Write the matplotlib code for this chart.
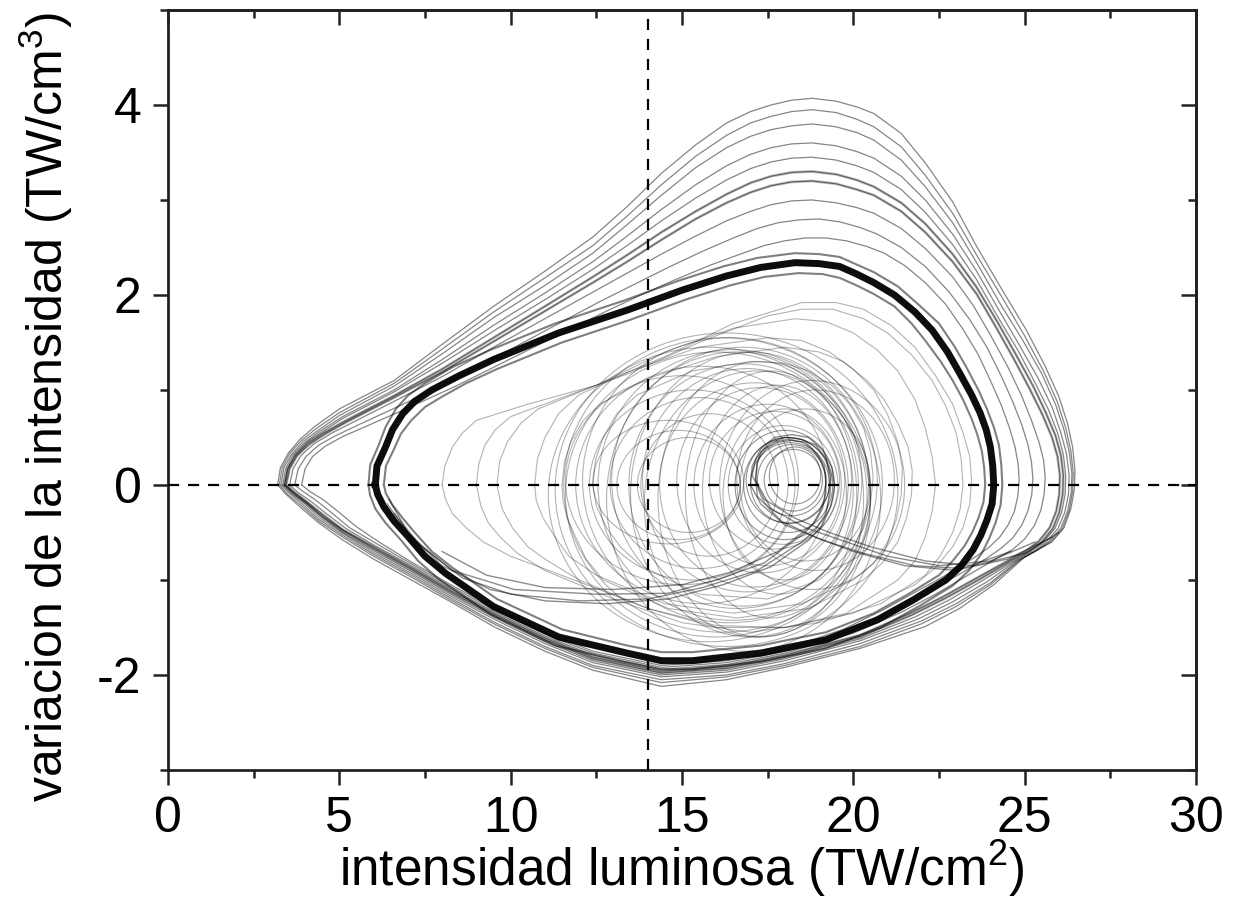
import matplotlib
matplotlib.use("Agg")
import matplotlib.pyplot as plt
from matplotlib.patches import Ellipse
from matplotlib.ticker import MultipleLocator

plt.rcParams['font.family'] = ['Liberation Sans', 'DejaVu Sans']
plt.rcParams['mathtext.fontset'] = 'custom'
plt.rcParams['mathtext.rm'] = 'Liberation Sans'
plt.rcParams['mathtext.it'] = 'Liberation Sans'
plt.rcParams['axes.unicode_minus'] = False

# ---------------- data ----------------
x_ticks = [0, 5, 10, 15, 20, 25, 30]
y_ticks = [-2, 0, 2, 4]
x_ref = 14.0     # vertical dashed line
y_ref = 0.0      # horizontal dashed line

# dominant (thick) cycle
main_cycle = [(6.05, 0.0), (6.1, 0.2), (6.35, 0.40), (6.55, 0.58), (6.85, 0.75), (7.2, 0.88),
              (7.7, 1.0), (8.5, 1.15), (9.5, 1.32), (11.4, 1.6), (13.4, 1.84), (15.0, 2.05),
              (16.3, 2.2), (17.3, 2.29), (18.3, 2.34), (19.0, 2.33), (19.6, 2.3), (20.1, 2.22),
              (20.6, 2.13), (21.2, 2.0), (21.8, 1.82), (22.3, 1.63), (22.75, 1.4), (23.1, 1.18),
              (23.45, 0.95), (23.7, 0.76), (23.88, 0.58), (24.0, 0.40), (24.07, 0.2), (24.1, 0.0),
              (24.05, -0.2), (23.9, -0.37), (23.72, -0.53), (23.5, -0.68), (23.15, -0.85),
              (22.7, -1.0), (21.75, -1.21), (20.7, -1.42), (19.2, -1.63), (17.3, -1.77),
              (15.3, -1.85), (14.4, -1.85), (13.4, -1.77), (11.4, -1.6), (9.5, -1.28),
              (8.1, -0.93), (7.5, -0.75), (7.0, -0.54), (6.6, -0.38), (6.3, -0.23), (6.12, -0.1),
              (6.05, 0.0)]
main_cycle_in = [(6.3, 0.0), (6.36, 0.2), (6.6, 0.38), (6.8, 0.54), (7.1, 0.68), (7.5, 0.82),
                 (8.0, 0.93), (8.7, 1.07), (9.6, 1.22), (11.5, 1.5), (13.5, 1.74), (15.1, 1.95),
                 (16.4, 2.1), (17.4, 2.19), (18.4, 2.23), (19.1, 2.22), (19.6, 2.18), (20.1, 2.1),
                 (20.6, 2.01), (21.2, 1.88), (21.7, 1.7), (22.1, 1.52), (22.55, 1.3), (22.9, 1.1),
                 (23.2, 0.9), (23.45, 0.7), (23.62, 0.53), (23.75, 0.36), (23.82, 0.18), (23.85, 0.0),
                 (23.8, -0.18), (23.65, -0.35), (23.47, -0.5), (23.25, -0.64), (22.9, -0.8),
                 (22.5, -0.95), (21.6, -1.15), (20.6, -1.35), (19.2, -1.55), (17.3, -1.69),
                 (15.3, -1.76), (14.4, -1.76), (13.4, -1.69), (11.5, -1.52), (9.6, -1.2),
                 (8.3, -0.87), (7.7, -0.7), (7.2, -0.5), (6.85, -0.35), (6.55, -0.21), (6.36, -0.09),
                 (6.3, 0.0)]
main_cycle_out = [(5.85, 0.0), (5.9, 0.21), (6.15, 0.42), (6.35, 0.61), (6.65, 0.8), (7.0, 0.94),
                  (7.5, 1.07), (8.3, 1.24), (9.4, 1.42), (11.3, 1.7), (13.3, 1.94), (14.9, 2.15),
                  (16.2, 2.3), (17.2, 2.39), (18.3, 2.44), (19.0, 2.43), (19.6, 2.4), (20.1, 2.32),
                  (20.6, 2.24), (21.3, 2.09), (21.9, 1.9), (22.5, 1.7), (22.95, 1.46), (23.3, 1.24),
                  (23.65, 1.0), (23.9, 0.8), (24.1, 0.61), (24.25, 0.42), (24.32, 0.21), (24.35, 0.0),
                  (24.3, -0.21), (24.15, -0.4), (23.97, -0.56), (23.75, -0.72), (23.38, -0.9),
                  (22.9, -1.06), (21.9, -1.28), (20.8, -1.5), (19.2, -1.72), (17.3, -1.86),
                  (15.3, -1.94), (14.4, -1.94), (13.3, -1.86), (11.3, -1.69), (9.4, -1.36),
                  (7.9, -0.99), (7.3, -0.8), (6.8, -0.58), (6.35, -0.4), (6.05, -0.25), (5.9, -0.11),
                  (5.85, 0.0)]

# large excursions (outer band)
outer_1 = [(3.2, 0), (3.28, 0.18), (3.5, 0.33), (3.85, 0.48), (4.3, 0.62), (5.0, 0.8), (6.6, 1.1),
           (8.0, 1.48), (9.5, 1.88), (11.0, 2.25), (12.4, 2.61), (13.4, 2.93), (14.4, 3.28),
           (15.4, 3.58), (16.3, 3.81), (17.0, 3.93), (17.6, 4.0), (18.2, 4.05), (18.8, 4.07),
           (19.5, 4.04), (20.1, 3.98), (20.6, 3.91), (21.4, 3.7), (22.1, 3.39), (22.9, 2.98),
           (23.6, 2.51), (24.35, 2.05), (25.05, 1.63), (25.6, 1.25), (26.0, 0.93), (26.25, 0.65),
           (26.4, 0.4), (26.47, 0.15), (26.45, -0.05), (26.35, -0.25), (26.15, -0.45), (25.8, -0.6),
           (25.4, -0.68), (25.0, -0.76), (24.1, -1.05), (23.1, -1.3), (22.1, -1.49), (20.2, -1.72),
           (18.0, -1.92), (16.3, -2.05), (14.4, -2.12), (12.4, -1.95), (11.0, -1.75), (9.5, -1.49),
           (8.2, -1.22), (7.1, -1.0), (6.0, -0.78), (5.1, -0.58), (4.4, -0.4), (3.85, -0.23),
           (3.45, -0.1), (3.2, 0)]
outer_2 = [(3.25, 0), (3.33, 0.18), (3.55, 0.33), (3.9, 0.47), (4.35, 0.6), (5.0, 0.76), (6.6, 1.07),
           (8.0, 1.43), (9.5, 1.82), (11.0, 2.18), (12.4, 2.52), (13.4, 2.83), (14.4, 3.16),
           (15.4, 3.46), (16.3, 3.68), (17.0, 3.81), (17.6, 3.88), (18.2, 3.93), (18.8, 3.95),
           (19.5, 3.92), (20.1, 3.85), (20.6, 3.77), (21.4, 3.56), (22.1, 3.26), (22.9, 2.86),
           (23.6, 2.42), (24.35, 1.97), (25.0, 1.57), (25.55, 1.2), (25.95, 0.88), (26.2, 0.6),
           (26.35, 0.36), (26.42, 0.12), (26.4, -0.07), (26.3, -0.27), (26.1, -0.46), (25.75, -0.6),
           (25.35, -0.69), (24.9, -0.78), (24.0, -1.05), (23.0, -1.28), (22.0, -1.46), (20.2, -1.7),
           (18.0, -1.9), (16.3, -2.02), (14.4, -2.08), (12.4, -1.92), (11.0, -1.72), (9.5, -1.46),
           (8.2, -1.2), (7.1, -0.97), (6.0, -0.75), (5.1, -0.55), (4.4, -0.38), (3.9, -0.22),
           (3.5, -0.1), (3.25, 0)]
outer_3 = [(3.3, 0), (3.38, 0.18), (3.6, 0.32), (3.95, 0.46), (4.4, 0.58), (5.0, 0.73), (6.6, 1.04),
           (8.0, 1.38), (9.5, 1.76), (11.0, 2.1), (12.4, 2.44), (13.4, 2.74), (14.4, 3.05),
           (15.4, 3.34), (16.3, 3.55), (17.0, 3.67), (17.6, 3.74), (18.2, 3.78), (18.8, 3.8),
           (19.5, 3.77), (20.1, 3.71), (20.6, 3.63), (21.4, 3.42), (22.1, 3.14), (22.9, 2.76),
           (23.6, 2.34), (24.3, 1.9), (24.95, 1.52), (25.5, 1.17), (25.9, 0.85), (26.15, 0.58),
           (26.3, 0.35), (26.38, 0.12), (26.36, -0.08), (26.25, -0.28), (26.05, -0.46), (25.7, -0.6),
           (25.3, -0.7), (24.8, -0.8), (24.0, -1.03), (23.0, -1.25), (22.0, -1.43), (20.2, -1.67),
           (18.0, -1.88), (16.3, -2.0), (14.4, -2.05), (12.4, -1.9), (11.0, -1.7), (9.5, -1.44),
           (8.2, -1.18), (7.1, -0.95), (6.0, -0.73), (5.1, -0.53), (4.4, -0.36), (3.95, -0.21),
           (3.55, -0.09), (3.3, 0)]
outer_4 = [(3.35, 0), (3.43, 0.17), (3.65, 0.32), (4.0, 0.45), (4.45, 0.57), (5.1, 0.72), (6.6, 1.0),
           (8.0, 1.32), (9.5, 1.68), (11.0, 2.02), (12.4, 2.35), (13.4, 2.62), (14.4, 2.9),
           (15.4, 3.16), (16.3, 3.36), (17.0, 3.48), (17.6, 3.55), (18.2, 3.59), (18.8, 3.6),
           (19.5, 3.57), (20.1, 3.51), (20.6, 3.44), (21.4, 3.25), (22.1, 3.0), (22.9, 2.64),
           (23.6, 2.25), (24.25, 1.84), (24.85, 1.47), (25.4, 1.12), (25.8, 0.82), (26.05, 0.56),
           (26.22, 0.33), (26.3, 0.1), (26.28, -0.1), (26.17, -0.29), (25.97, -0.46), (25.63, -0.6),
           (25.25, -0.7), (24.75, -0.8), (23.9, -1.02), (22.9, -1.23), (21.9, -1.41), (20.2, -1.64),
           (18.0, -1.85), (16.3, -1.97), (14.4, -2.02), (12.4, -1.87), (11.0, -1.67), (9.5, -1.41),
           (8.2, -1.16), (7.1, -0.93), (6.0, -0.71), (5.1, -0.51), (4.45, -0.35), (4.0, -0.2),
           (3.6, -0.09), (3.35, 0)]
outer_5 = [(3.4, 0), (3.48, 0.17), (3.7, 0.32), (4.05, 0.45), (4.5, 0.56), (5.1, 0.7), (6.6, 0.98),
           (8.0, 1.28), (9.5, 1.62), (11.0, 1.95), (12.4, 2.27), (13.4, 2.52), (14.4, 2.78),
           (15.4, 3.02), (16.3, 3.21), (17.0, 3.33), (17.6, 3.4), (18.2, 3.44), (18.8, 3.45),
           (19.5, 3.42), (20.1, 3.36), (20.6, 3.29), (21.4, 3.11), (22.1, 2.87), (22.9, 2.53),
           (23.6, 2.16), (24.2, 1.78), (24.8, 1.42), (25.3, 1.08), (25.7, 0.79), (25.97, 0.54),
           (26.13, 0.32), (26.2, 0.1), (26.18, -0.1), (26.08, -0.29), (25.88, -0.46), (25.55, -0.6),
           (25.17, -0.7), (24.7, -0.8), (23.8, -1.0), (22.8, -1.21), (21.8, -1.39), (20.2, -1.62),
           (18.0, -1.83), (16.3, -1.95), (14.4, -2.0), (12.4, -1.85), (11.0, -1.65), (9.5, -1.39),
           (8.2, -1.14), (7.1, -0.91), (6.0, -0.69), (5.1, -0.5), (4.5, -0.34), (4.05, -0.2),
           (3.65, -0.09), (3.4, 0)]
outer_6 = [(3.4, 0), (3.5, 0.17), (3.72, 0.31), (4.08, 0.44), (4.55, 0.55), (5.2, 0.68), (6.6, 0.94),
           (8.0, 1.22), (9.5, 1.55), (11.0, 1.88), (12.4, 2.19), (13.4, 2.42), (14.4, 2.66),
           (15.4, 2.88), (16.3, 3.06), (17.0, 3.18), (17.6, 3.25), (18.2, 3.29), (18.8, 3.3),
           (19.5, 3.27), (20.1, 3.21), (20.6, 3.14), (21.4, 2.97), (22.1, 2.75), (22.9, 2.43),
           (23.6, 2.08), (24.2, 1.72), (24.75, 1.37), (25.25, 1.04), (25.62, 0.76), (25.9, 0.52),
           (26.06, 0.31), (26.13, 0.1), (26.11, -0.1), (26.01, -0.29), (25.82, -0.46), (25.5, -0.6),
           (25.12, -0.7), (24.65, -0.79), (23.7, -0.99), (22.7, -1.19), (21.7, -1.37), (20.2, -1.6),
           (18.0, -1.81), (16.3, -1.93), (14.4, -1.98), (12.4, -1.83), (11.0, -1.63), (9.5, -1.37),
           (8.2, -1.12), (7.1, -0.89), (6.0, -0.67), (5.1, -0.48), (4.5, -0.33), (4.05, -0.19),
           (3.65, -0.08), (3.4, 0)]
outer_7 = [(3.45, 0), (3.55, 0.17), (3.77, 0.31), (4.13, 0.43), (4.6, 0.54), (5.25, 0.67), (6.6, 0.92),
           (8.0, 1.19), (9.5, 1.51), (11.0, 1.83), (12.4, 2.13), (13.4, 2.35), (14.4, 2.58),
           (15.4, 2.8), (16.3, 2.97), (17.0, 3.08), (17.6, 3.15), (18.2, 3.19), (18.8, 3.2),
           (19.5, 3.17), (20.1, 3.11), (20.6, 3.05), (21.4, 2.88), (22.1, 2.66), (22.9, 2.35),
           (23.6, 2.01), (24.15, 1.67), (24.68, 1.33), (25.15, 1.01), (25.52, 0.74), (25.8, 0.5),
           (25.96, 0.3), (26.03, 0.1), (26.01, -0.1), (25.92, -0.28), (25.73, -0.45), (25.42, -0.59),
           (25.05, -0.69), (24.6, -0.78), (23.6, -0.98), (22.6, -1.18), (21.6, -1.36), (20.2, -1.58),
           (18.0, -1.79), (16.3, -1.91), (14.4, -1.96), (12.4, -1.81), (11.0, -1.61), (9.5, -1.35),
           (8.2, -1.1), (7.1, -0.87), (6.0, -0.65), (5.1, -0.47), (4.55, -0.32), (4.1, -0.19),
           (3.7, -0.08), (3.45, 0)]
outer_8 = [(3.55, 0), (3.65, 0.17), (3.88, 0.31), (4.25, 0.43), (4.75, 0.54), (5.4, 0.66), (6.6, 0.88),
           (8.0, 1.14), (9.5, 1.45), (11.0, 1.75), (12.4, 2.03), (13.4, 2.23), (14.4, 2.43),
           (15.4, 2.62), (16.3, 2.78), (17.0, 2.88), (17.6, 2.95), (18.2, 2.99), (18.8, 3.0),
           (19.5, 2.97), (20.1, 2.92), (20.6, 2.86), (21.4, 2.7), (22.1, 2.49), (22.9, 2.19),
           (23.5, 1.89), (24.0, 1.58), (24.5, 1.25), (24.9, 0.95), (25.2, 0.68), (25.42, 0.45),
           (25.55, 0.27), (25.6, 0.08), (25.57, -0.1), (25.47, -0.27), (25.28, -0.43), (25.0, -0.57),
           (24.65, -0.68), (24.2, -0.77), (23.3, -0.96), (22.4, -1.15), (21.4, -1.34), (20.0, -1.56),
           (18.0, -1.77), (16.3, -1.89), (14.4, -1.94), (12.4, -1.79), (11.0, -1.59), (9.5, -1.33),
           (8.2, -1.08), (7.1, -0.85), (6.0, -0.63), (5.2, -0.46), (4.65, -0.31), (4.2, -0.18),
           (3.8, -0.08), (3.55, 0)]
outer_9 = [(3.7, 0), (3.8, 0.17), (4.03, 0.3), (4.4, 0.42), (4.9, 0.52), (5.6, 0.64), (6.8, 0.84),
           (8.2, 1.08), (9.7, 1.37), (11.2, 1.66), (12.6, 1.93), (13.6, 2.11), (14.6, 2.29),
           (15.6, 2.46), (16.5, 2.6), (17.2, 2.7), (17.8, 2.76), (18.4, 2.79), (19.0, 2.8),
           (19.6, 2.77), (20.2, 2.71), (20.7, 2.64), (21.4, 2.5), (22.1, 2.3), (22.8, 2.03),
           (23.4, 1.74), (23.9, 1.45), (24.3, 1.16), (24.65, 0.88), (24.92, 0.63), (25.1, 0.42),
           (25.2, 0.24), (25.24, 0.07), (25.21, -0.1), (25.1, -0.27), (24.92, -0.42), (24.65, -0.56),
           (24.3, -0.67), (23.9, -0.77), (23.0, -0.96), (22.1, -1.14), (21.2, -1.32), (19.9, -1.54),
           (18.0, -1.75), (16.3, -1.87), (14.4, -1.92), (12.4, -1.77), (11.0, -1.57), (9.5, -1.31),
           (8.2, -1.06), (7.1, -0.83), (6.1, -0.62), (5.3, -0.45), (4.8, -0.3), (4.35, -0.17),
           (3.95, -0.07), (3.7, 0)]
outer_10 = [(3.9, 0), (4.0, 0.17), (4.22, 0.3), (4.6, 0.41), (5.1, 0.51), (5.8, 0.62), (7.0, 0.81),
            (8.4, 1.04), (9.9, 1.31), (11.4, 1.58), (12.8, 1.83), (13.8, 2.0), (14.8, 2.16),
            (15.8, 2.31), (16.7, 2.43), (17.4, 2.52), (18.0, 2.57), (18.6, 2.6), (19.2, 2.6),
            (19.8, 2.57), (20.4, 2.51), (20.9, 2.44), (21.5, 2.31), (22.1, 2.13), (22.7, 1.9),
            (23.2, 1.64), (23.65, 1.37), (24.0, 1.1), (24.32, 0.84), (24.56, 0.6), (24.72, 0.4),
            (24.81, 0.22), (24.84, 0.05), (24.8, -0.12), (24.7, -0.28), (24.52, -0.42), (24.27, -0.55),
            (23.95, -0.66), (23.55, -0.76), (22.7, -0.95), (21.8, -1.13), (20.9, -1.31), (19.7, -1.52),
            (18.0, -1.73), (16.3, -1.85), (14.4, -1.9), (12.4, -1.75), (11.0, -1.55), (9.5, -1.29),
            (8.2, -1.04), (7.1, -0.81), (6.2, -0.61), (5.5, -0.44), (5.0, -0.29), (4.55, -0.16),
            (4.15, -0.07), (3.9, 0)]

# inner loops (spiral grown back towards the cycle)
inner_a = [(8.0, 0.0), (8.08, 0.2), (8.3, 0.4), (8.6, 0.55), (9.0, 0.68), (10.5, 0.85), (12.5, 1.05),
           (14.5, 1.35), (16.5, 1.7), (18.5, 1.92), (19.5, 1.92), (20.3, 1.85), (21.1, 1.68),
           (21.8, 1.45), (22.4, 1.15), (22.9, 0.85), (23.2, 0.55), (23.4, 0.3), (23.45, 0.05),
           (23.4, -0.2), (23.2, -0.45), (22.9, -0.65), (22.4, -0.87), (21.8, -1.05), (20.0, -1.35),
           (18.0, -1.5), (16.0, -1.5), (14.0, -1.3), (12.0, -1.02), (10.0, -0.75), (9.2, -0.6),
           (8.7, -0.45), (8.3, -0.3), (8.1, -0.15), (8.0, 0.0)]
inner_b = [(9.6, 0.0), (9.68, 0.25), (9.9, 0.45), (10.3, 0.65), (10.8, 0.8), (12.5, 1.05), (14.5, 1.4),
           (16.5, 1.65), (18.3, 1.75), (19.2, 1.72), (20.0, 1.6), (20.7, 1.42), (21.3, 1.2),
           (21.8, 0.9), (22.1, 0.6), (22.3, 0.3), (22.4, 0.0), (22.3, -0.28), (22.1, -0.55),
           (21.8, -0.8), (21.3, -1.0), (19.8, -1.35), (18.0, -1.5), (16.0, -1.48), (14.0, -1.3),
           (12.0, -1.0), (11.0, -0.78), (10.5, -0.65), (10.05, -0.45), (9.75, -0.25), (9.6, 0.0)]
inner_c = [(10.7, 0.0), (10.78, 0.27), (11.0, 0.5), (11.4, 0.75), (12.0, 0.95), (13.5, 1.2),
           (15.5, 1.45), (17.5, 1.55), (18.5, 1.52), (19.3, 1.4), (20.0, 1.22), (20.6, 1.0),
           (21.0, 0.74), (21.3, 0.45), (21.43, 0.17), (21.4, -0.1), (21.25, -0.37), (21.0, -0.6),
           (20.6, -0.82), (20.0, -1.0), (18.5, -1.25), (16.5, -1.35), (14.5, -1.25), (12.5, -0.95),
           (11.7, -0.75), (11.3, -0.55), (10.95, -0.35), (10.75, -0.17), (10.7, 0.0)]
inner_d = [(12.4, 0.0), (12.48, 0.27), (12.7, 0.5), (13.1, 0.75), (13.7, 0.95), (15.3, 1.2),
           (17.0, 1.3), (18.0, 1.28), (18.7, 1.2), (19.4, 1.04), (19.9, 0.85), (20.3, 0.6),
           (20.5, 0.35), (20.58, 0.08), (20.5, -0.2), (20.3, -0.45), (20.0, -0.65), (19.5, -0.85),
           (19.0, -1.0), (17.5, -1.2), (15.5, -1.15), (13.8, -0.85), (13.2, -0.65), (12.8, -0.45),
           (12.5, -0.22), (12.4, 0.0)]
inner_e = [(11.5, 0.0), (11.57, 0.24), (11.75, 0.45), (12.1, 0.67), (12.6, 0.85), (14.0, 1.12),
           (16.0, 1.35), (18.0, 1.45), (19.0, 1.4), (19.7, 1.3), (20.4, 1.1), (20.9, 0.9),
           (21.3, 0.65), (21.6, 0.4), (21.72, 0.15), (21.7, -0.1), (21.55, -0.35), (21.3, -0.6),
           (20.85, -0.82), (20.3, -1.0), (18.7, -1.3), (16.6, -1.4), (14.6, -1.3), (12.7, -1.0),
           (12.2, -0.78), (11.9, -0.55), (11.65, -0.35), (11.53, -0.17), (11.5, 0.0)]
inner_f = [(9.0, 0.0), (9.07, 0.22), (9.25, 0.42), (9.55, 0.58), (10.0, 0.72), (11.5, 0.92),
           (13.5, 1.18), (15.5, 1.5), (17.5, 1.78), (18.5, 1.85), (19.4, 1.85), (20.3, 1.75),
           (21.0, 1.6), (21.7, 1.37), (22.3, 1.1), (22.7, 0.83), (23.0, 0.55), (23.15, 0.27),
           (23.2, 0.0), (23.12, -0.25), (22.9, -0.5), (22.55, -0.74), (22.1, -0.95), (20.8, -1.25),
           (19.0, -1.45), (17.0, -1.55), (15.0, -1.45), (13.0, -1.2), (11.0, -0.9), (10.2, -0.72),
           (9.7, -0.55), (9.35, -0.4), (9.13, -0.22), (9.0, 0.0)]

# tails around the unstable focus
tail_a = [(26.0, -0.5), (25.0, -0.72), (23.5, -0.85), (22.1, -0.8), (20.5, -0.65), (19.3, -0.5),
          (18.3, -0.35), (17.4, -0.15), (17.05, 0.1), (17.15, 0.27), (17.4, 0.38), (17.75, 0.46),
          (18.1, 0.48), (18.5, 0.45), (18.8, 0.38), (19.05, 0.25), (19.2, 0.1), (19.2, -0.08),
          (19.1, -0.25), (18.9, -0.38), (18.6, -0.5), (17.4, -0.82), (16.0, -1.0), (14.6, -1.14),
          (12.5, -1.15), (10.1, -1.1), (8.3, -0.9), (7.1, -0.55), (6.4, -0.2)]
tail_b = [(25.3, -0.6), (24.0, -0.8), (22.5, -0.85), (21.0, -0.75), (19.8, -0.6), (18.6, -0.45),
          (17.6, -0.25), (17.15, 0.05), (17.2, 0.22), (17.3, 0.35), (17.6, 0.45), (18.0, 0.5),
          (18.5, 0.48), (18.9, 0.42), (19.2, 0.28), (19.35, 0.1), (19.32, -0.1), (19.2, -0.3),
          (18.9, -0.47), (18.5, -0.6), (17.2, -0.9), (15.6, -1.08), (14.0, -1.2), (12.0, -1.22),
          (10.0, -1.15), (8.6, -0.98), (7.4, -0.65), (6.6, -0.3)]
tail_c = [(24.6, -0.7), (23.0, -0.9), (21.5, -0.85), (20.0, -0.7), (18.9, -0.55), (17.9, -0.38),
          (17.2, -0.12), (17.15, 0.08), (17.2, 0.25), (17.45, 0.38), (17.8, 0.45), (18.2, 0.47),
          (18.6, 0.45), (18.95, 0.33), (19.15, 0.2), (19.2, 0.02), (19.15, -0.15), (19.0, -0.3),
          (18.8, -0.42), (17.8, -0.7), (16.4, -0.92), (15.0, -1.05), (13.0, -1.1), (11.0, -1.08),
          (9.3, -0.95), (8.0, -0.7)]
tail_d = [(25.8, -0.55), (24.5, -0.78), (23.2, -0.88), (21.8, -0.85), (20.3, -0.72), (19.1, -0.58),
          (18.0, -0.42), (17.3, -0.2), (17.0, 0.0), (17.05, 0.2), (17.3, 0.38), (17.7, 0.5),
          (18.2, 0.53), (18.7, 0.5), (19.1, 0.37), (19.38, 0.18), (19.45, -0.02), (19.35, -0.22),
          (19.1, -0.42), (18.7, -0.58), (17.6, -0.86), (16.2, -1.05), (14.6, -1.2), (12.8, -1.25),
          (11.0, -1.22), (9.4, -1.1), (8.0, -0.85), (7.0, -0.5), (6.45, -0.15)]

# loops of the spiral: centre x, centre y, full width, full height
spiral_cx = [18.15, 18.2, 18.1, 18.25, 18.0, 18.3, 18.1, 17.95,
             17.7, 17.5, 17.3, 17.1, 16.9, 16.8, 16.6, 16.5, 16.4, 16.2,
             14.6, 14.9, 15.2, 15.5, 15.3, 15.8, 15.0, 15.6,
             18.6, 18.9, 18.8,
             17.0, 17.3, 17.6, 16.8, 17.8, 16.0, 16.3, 17.2, 18.0, 15.8]
spiral_cy = [0.02, 0.05, 0.0, 0.05, 0.0, 0.1, 0.05, 0.0,
             0.05, 0.0, 0.05, 0.0, 0.05, 0.0, 0.05, 0.0, 0.05, 0.0,
             0.03, 0.0, 0.0, 0.02, 0.0, 0.0, 0.05, 0.0,
             0.0, 0.05, 0.0,
             -0.1, -0.15, -0.1, -0.15, -0.05, -0.1, -0.05, -0.2, -0.1, -0.1]
spiral_w = [2.3, 2.0, 2.6, 1.7, 2.9, 1.5, 2.45, 3.2,
            3.8, 4.3, 4.9, 5.5, 6.1, 6.7, 7.3, 7.9, 8.6, 9.3,
            4.4, 3.6, 3.0, 5.2, 6.0, 4.0, 6.8, 7.4,
            3.8, 4.6, 5.4,
            7.0, 6.0, 5.0, 8.0, 4.4, 8.8, 10.0, 6.6, 3.6, 9.4]
spiral_h = [0.85, 0.75, 1.0, 0.65, 1.15, 0.6, 0.9, 1.25,
            1.45, 1.7, 1.95, 2.15, 2.35, 2.55, 2.7, 2.85, 3.0, 3.1,
            1.3, 1.15, 1.0, 1.8, 2.0, 1.5, 2.2, 2.5,
            1.6, 1.9, 2.2,
            3.0, 2.9, 2.6, 3.2, 2.2, 3.0, 3.3, 2.8, 1.8, 3.1]

# ---------------- figure ----------------
fig = plt.figure(figsize=(12.36, 9.05), dpi=100)
ax = fig.add_axes([0.1359, 0.1492, 0.8317, 0.8398])


def draw(loop, lw, alpha, color='black', z=2):
    xs = [p[0] for p in loop]
    ys = [p[1] for p in loop]
    ax.plot(xs, ys, color=color, lw=lw, alpha=alpha, solid_joinstyle='round', zorder=z)


for i, (cx, cy, w, h) in enumerate(zip(spiral_cx, spiral_cy, spiral_w, spiral_h)):
    a = 0.42 if w < 3.0 else 0.3
    ax.add_patch(Ellipse((cx, cy), w, h, fill=False, edgecolor='black', lw=0.8, alpha=a, zorder=2))

for loop in [inner_a, inner_b, inner_c, inner_d, inner_e, inner_f]:
    draw(loop, 0.8, 0.3)
for loop in [tail_a, tail_b, tail_c, tail_d]:
    draw(loop, 1.0, 0.45)
for loop in [outer_1, outer_2, outer_3, outer_4, outer_5, outer_6, outer_7, outer_8, outer_9, outer_10]:
    draw(loop, 0.9, 0.48)
draw(outer_6, 2.0, 0.25)
draw(outer_7, 2.0, 0.25)
draw(main_cycle_out, 1.5, 0.5)
draw(main_cycle_in, 1.5, 0.5)
draw(main_cycle, 5.0, 0.95, z=3)

ax.axhline(y_ref, color='black', lw=1.6, ls=(0, (5, 4)), zorder=4)
ax.axvline(x_ref, color='black', lw=1.6, ls=(0, (5, 4)), zorder=4)

ax.set_xlim(0, 30)
ax.set_ylim(-3, 5)
ax.set_xticks(x_ticks)
ax.set_yticks(y_ticks)
ax.xaxis.set_minor_locator(MultipleLocator(2.5))
ax.yaxis.set_minor_locator(MultipleLocator(1))
ax.tick_params(which='both', direction='out', width=1.8, top=False, right=False,
               labelsize=36, pad=8, color='#222222')
ax.tick_params(which='major', length=11)
ax.tick_params(which='minor', length=6)
for s in ax.spines.values():
    s.set_linewidth(2.0)
    s.set_color('#222222')

secx = ax.secondary_xaxis('top')
secx.set_xticks(x_ticks)
secx.xaxis.set_minor_locator(MultipleLocator(2.5))
secx.tick_params(which='both', direction='in', width=1.8, labeltop=False, color='#222222')
secx.tick_params(which='major', length=11)
secx.tick_params(which='minor', length=6)
secy = ax.secondary_yaxis('right')
secy.set_yticks(y_ticks)
secy.yaxis.set_minor_locator(MultipleLocator(1))
secy.tick_params(which='both', direction='in', width=1.8, labelright=False, color='#222222')
secy.tick_params(which='major', length=11)
secy.tick_params(which='minor', length=6)
for sa in (secx, secy):
    for s in sa.spines.values():
        s.set_linewidth(2.0)
        s.set_color('#222222')

ax.set_xlabel(r'intensidad luminosa (TW/cm$^{2}$)', fontsize=37, labelpad=-3)
ax.set_ylabel(r'variacion de la intensidad (TW/cm$^{3}$)', fontsize=36)
ax.yaxis.set_label_coords(-0.09, 0.478)

fig.savefig('out.png', dpi=100, facecolor='white')
